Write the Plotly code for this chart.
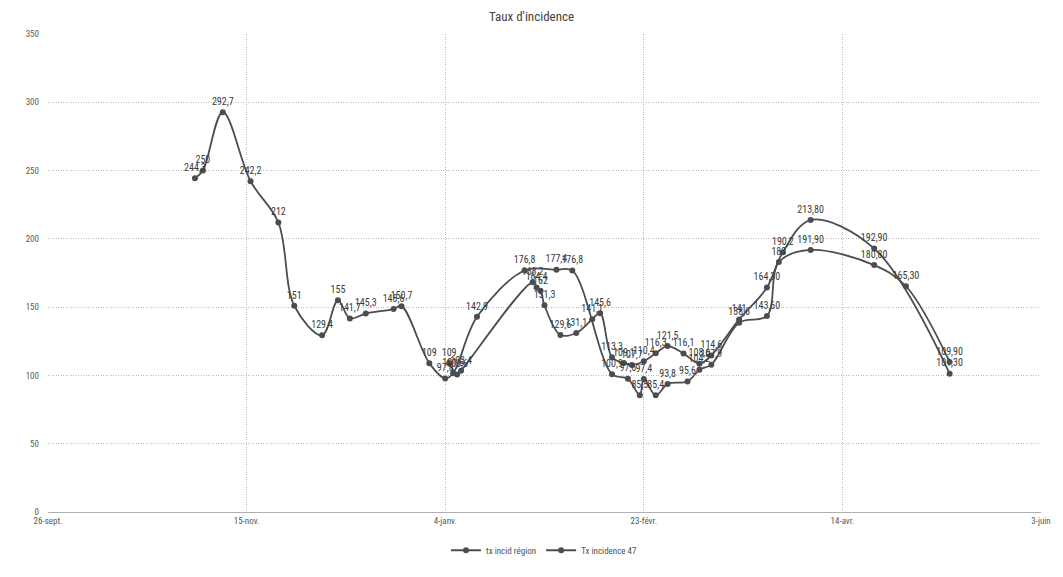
import plotly.graph_objects as go

# --- chart data -------------------------------------------------------------
title_text = "Taux d'incidence"

tick_dates = ["2020-09-26", "2020-11-15", "2021-01-04", "2021-02-23", "2021-04-14", "2021-06-03"]
tick_labels = ["26-sept.", "15-nov.", "4-janv.", "23-févr.", "14-avr.", "3-juin"]
y_ticks = [0, 50, 100, 150, 200, 250, 300, 350]

region_name = "tx incid région"
region_dates = [
    "2021-01-05", "2021-01-07", "2021-01-08", "2021-01-26", "2021-01-27", "2021-01-28",
    "2021-01-29", "2021-02-02", "2021-02-06", "2021-02-10", "2021-02-12", "2021-02-15",
    "2021-02-18", "2021-02-20", "2021-02-23", "2021-02-26", "2021-03-01", "2021-03-05",
    "2021-03-09", "2021-03-12", "2021-03-19", "2021-03-26", "2021-03-30", "2021-04-06",
    "2021-04-22", "2021-05-11",
]
region_values = [
    109, 100.6, 103.4, 168.2, 164.4, 162,
    151.3, 129.6, 131.1, 141.1, 145.6, 113.3,
    109.1, 107.7, 110.4, 116.3, 121.5, 116.1,
    108.6, 114.6, 141, 164.3, 190.2, 213.8,
    192.9, 101.3,
]
# number of decimals shown in each data label (None = general format)
region_label_digits = [None] * 21 + [2, None, 2, 2, 2]

dept_name = "Tx incidence 47"
dept_dates = [
    "2020-11-02", "2020-11-04", "2020-11-09", "2020-11-16", "2020-11-23", "2020-11-27",
    "2020-12-04", "2020-12-08", "2020-12-11", "2020-12-15", "2020-12-22", "2020-12-24",
    "2020-12-31", "2021-01-04", "2021-01-06", "2021-01-12", "2021-01-24", "2021-02-01",
    "2021-02-05", "2021-02-15", "2021-02-19", "2021-02-22", "2021-02-23", "2021-02-26",
    "2021-03-01", "2021-03-06", "2021-03-09", "2021-03-12", "2021-03-19", "2021-03-26",
    "2021-03-29", "2021-04-06", "2021-04-22", "2021-04-30", "2021-05-11",
]
dept_values = [
    244.3, 250, 292.7, 242.2, 212, 151,
    129.4, 155, 141.7, 145.3, 148.6, 150.7,
    109, 97.8, 101.6, 142.9, 176.8, 177.4,
    176.8, 100.9, 97.6, 85.5, 97.4, 85.4,
    93.8, 95.6, 104.2, 107.9, 138.6, 143.6,
    183, 191.9, 180.8, 165.3, 109.9,
]
dept_label_digits = [None] * 29 + [2, None, 2, 2, 2, 2]


def fr_label(value, digits):
    text = f"{value:g}" if digits is None else f"{value:.{digits}f}"
    return text.replace(".", ",")


FONT = "Liberation Sans Narrow, Arial Narrow, Roboto Condensed, Roboto, sans-serif"
GRID = "#bcbcbc"
GRID_DASH = "1px,1.5px"

fig = go.Figure()

for name, dates, values, digits, color in [
    (region_name, region_dates, region_values, region_label_digits, "#4a4e53"),
    (dept_name, dept_dates, dept_values, dept_label_digits, "#4d4d4d"),
]:
    fig.add_trace(go.Scatter(
        x=dates,
        y=values,
        name=name,
        mode="lines+markers+text",
        line=dict(color=color, width=1.8, shape="spline", smoothing=1.0),
        marker=dict(color=color, size=6, symbol="circle"),
        text=[fr_label(v, d) for v, d in zip(values, digits)],
        textposition="top center",
        textfont=dict(family=FONT, size=10, color="#3a3a3a"),
        cliponaxis=False,
    ))

fig.update_layout(
    width=1063,
    height=577,
    paper_bgcolor="white",
    plot_bgcolor="white",
    margin=dict(l=48, r=18, t=34, b=55),
    title=dict(text=title_text, x=0.5, xanchor="center", y=0.972, yanchor="middle",
               font=dict(family=FONT, size=13, color="#444444")),
    font=dict(family=FONT, size=9, color="#595959"),
    showlegend=True,
    legend=dict(orientation="h", x=0.5, xanchor="center", y=-0.08, yanchor="middle",
                font=dict(family=FONT, size=9, color="#505050"),
                bgcolor="rgba(0,0,0,0)"),
)

fig.update_xaxes(
    type="date",
    range=[tick_dates[0], tick_dates[-1]],
    tickmode="array",
    tickvals=tick_dates,
    ticktext=tick_labels,
    showgrid=True,
    gridcolor=GRID,
    griddash=GRID_DASH,
    gridwidth=1,
    showline=True,
    linecolor="#b0b0b0",
    linewidth=1,
    zeroline=False,
    ticks="",
    tickfont=dict(family=FONT, size=9, color="#595959"),
)

fig.update_yaxes(
    range=[0, 350],
    tickmode="array",
    tickvals=y_ticks,
    showgrid=True,
    gridcolor=GRID,
    griddash=GRID_DASH,
    gridwidth=1,
    zeroline=False,
    showline=False,
    ticks="",
    ticklabelstandoff=8,
    tickfont=dict(family=FONT, size=9, color="#595959"),
)

fig.write_html("out.html")
